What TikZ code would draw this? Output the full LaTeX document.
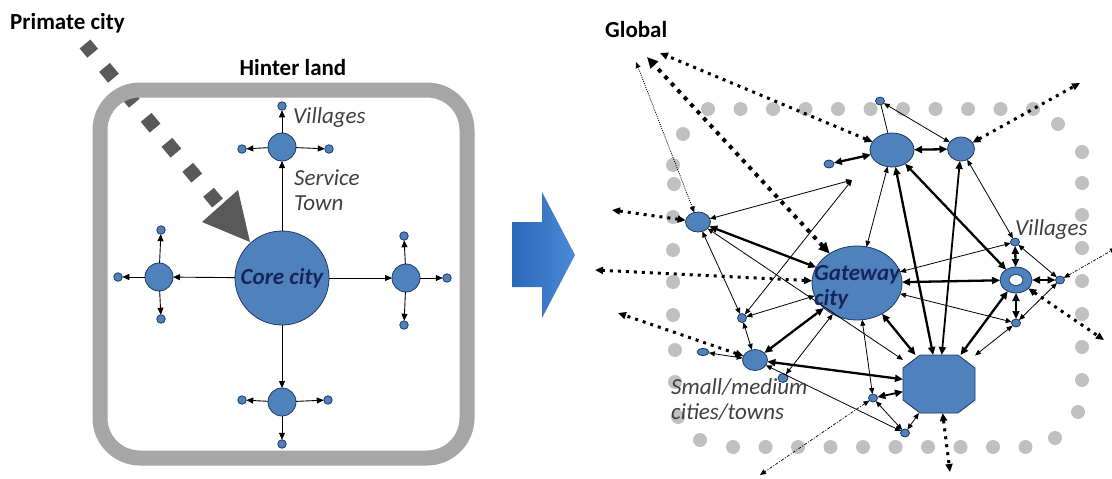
\documentclass[tikz,border=0pt]{standalone}
\usepackage{fontspec}
\setmainfont{Carlito}
\usetikzlibrary{arrows.meta,shapes.geometric}

\definecolor{cityblue}{RGB}{79,129,189}
\definecolor{cityline}{RGB}{31,56,100}
\definecolor{navytext}{RGB}{23,37,90}
\definecolor{labelgray}{RGB}{64,64,64}
\definecolor{framegray}{RGB}{166,166,166}
\definecolor{dotgray}{RGB}{192,192,192}
\definecolor{inflow}{RGB}{89,89,89}
\definecolor{shiftdark}{RGB}{44,104,186}
\definecolor{shiftlight}{RGB}{74,138,214}

\tikzset{
  tipS/.tip={Triangle[length=6pt,width=5pt]},
  tipM/.tip={Triangle[length=8pt,width=7pt]},
  tipL/.tip={Triangle[length=11pt,width=10pt]},
  city/.style={ellipse, draw=cityline, line width=0.8pt, fill=cityblue, inner sep=0pt, outer sep=0pt},
  hamlet/.style={city, minimum width=9pt, minimum height=8pt},
  spoke/.style={line width=0.9pt, -{Triangle[length=7pt,width=6pt]}},
  link/.style={line width=0.8pt, tipS-tipS},
  heavy/.style={line width=2.3pt, tipM-tipM},
  farlink/.style={line width=3pt, dash pattern=on 3pt off 5pt, tipM-tipM},
  bigfar/.style={line width=4pt, dash pattern=on 4pt off 5.5pt, tipL-tipL},
  faint/.style={line width=0.8pt, dash pattern=on 1pt off 1.2pt, tipS-tipS},
  dashdotline/.style={line width=0.7pt, dash pattern=on 3pt off 1.5pt on 1pt off 1.5pt, tipS-tipS},
  tag/.style={text=labelgray, font=\itshape\fontsize{23}{25}\selectfont, align=left, inner sep=0pt},
  heading/.style={font=\bfseries\fontsize{23}{25}\selectfont, inner sep=0pt},
  cityname/.style={text=navytext, font=\bfseries\itshape\fontsize{23}{25}\selectfont, align=left, inner sep=0pt},
}

\begin{document}
\begin{tikzpicture}[x=1pt,y=-1pt]
\useasboundingbox (0,0) rectangle (1112,479);

% ---------------- left: primate city model ----------------
\coordinate (pc) at (85,44);
\coordinate (pcend) at (220,206);
\draw[inflow, line width=14pt, dash pattern=on 14pt off 18.5pt, dash phase=2pt] (pc) -- (pcend);
\fill[inflow] (250,242) -- (202,222) -- (238,190) -- cycle;

% hinterland frame
\draw[framegray, line width=15pt, rounded corners=40pt] (100,90) rectangle (467,458);

\node[city, circle, minimum size=94pt, text=navytext,
      font=\bfseries\itshape\fontsize{23}{25}\selectfont] (core) at (282,278) {Core city};

\node[city, circle, minimum size=28pt] (tn) at (282,147) {};
\node[city, circle, minimum size=28pt] (tw) at (159,277) {};
\node[city, circle, minimum size=28pt] (te) at (406,278) {};
\node[city, circle, minimum size=28pt] (ts) at (282,402) {};

\node[city, circle, minimum size=8.5pt] (tnn) at (282,106) {};
\node[city, circle, minimum size=8.5pt] (tnw) at (242,149) {};
\node[city, circle, minimum size=8.5pt] (tne) at (329,149) {};
\node[city, circle, minimum size=8.5pt] (twn) at (161,230) {};
\node[city, circle, minimum size=8.5pt] (tww) at (118,277) {};
\node[city, circle, minimum size=8.5pt] (tws) at (161,319) {};
\node[city, circle, minimum size=8.5pt] (ten) at (404,236) {};
\node[city, circle, minimum size=8.5pt] (tee) at (447,278) {};
\node[city, circle, minimum size=8.5pt] (tes) at (404,325) {};
\node[city, circle, minimum size=8.5pt] (tsw) at (242,400) {};
\node[city, circle, minimum size=8.5pt] (tse) at (328,400) {};
\node[city, circle, minimum size=8.5pt] (tss) at (282,444) {};

\foreach \t in {tn,tw,te,ts} \draw[spoke] (core) -- (\t);
\draw[spoke] (tn) -- (tnn);  \draw[spoke] (tn) -- (tnw);  \draw[spoke] (tn) -- (tne);
\draw[spoke] (tw) -- (twn);  \draw[spoke] (tw) -- (tww);  \draw[spoke] (tw) -- (tws);
\draw[spoke] (te) -- (ten);  \draw[spoke] (te) -- (tee);  \draw[spoke] (te) -- (tes);
\draw[spoke] (ts) -- (tsw);  \draw[spoke] (ts) -- (tse);  \draw[spoke] (ts) -- (tss);

\node[heading, anchor=west] (ttl1) at (10,23) {Primate city};
\node[heading] (ttl2) at (293,68) {Hinter land};
\node[tag, anchor=west] (lv) at (293,117) {Villages};
\node[tag, anchor=west] (lst) at (294,190) {Service\\Town};

% ---------------- shift arrow ----------------
\shade[left color=shiftdark, right color=shiftlight]
  (512,222) -- (542,222) -- (542,192) -- (575,255) -- (542,318) -- (542,287) -- (512,287) -- cycle;

% ---------------- right: networked gateway model ----------------
% dotted hinterland outline
\foreach \i in {0,...,10} \fill[dotgray] (708+32.5*\i,109) circle[radius=7pt];
\foreach \i in {0,...,9} \fill[dotgray] (733+32.5*\i,447) circle[radius=7pt];
\foreach \p in {(683,134),(673,165),(674,184),(673,217),(673,250),(673,282),(673,315),(675,350),(675,382),(678,417),(700,440)}
  \fill[dotgray] \p circle[radius=7pt];
\foreach \p in {(1058,124),(1082,152),(1082,183),(1082,215),(1082,248),(1082,281),(1082,314),(1082,347),(1082,380),(1078,412),(1055,438)}
  \fill[dotgray] \p circle[radius=7pt];

% places
\node[city, minimum width=44pt, minimum height=34pt] (N1) at (892,150) {};
\node[city, minimum width=27pt, minimum height=24pt] (N2) at (961,149) {};
\node[hamlet] (t1) at (880,101) {};
\node[hamlet, minimum width=10pt] (t2) at (829,164) {};
\node[city, minimum width=90pt, minimum height=74pt] (G) at (857,283) {};
\node[city, minimum width=32pt, minimum height=26pt] (R) at (1016,280) {};
\node[ellipse, draw=cityline, line width=0.8pt, fill=white, minimum width=14pt, minimum height=11pt, inner sep=0pt] (Rin) at (R.center) {};
\node[hamlet] (v1) at (1015,242) {};
\node[hamlet] (v2) at (1016,323) {};
\node[hamlet] (v3) at (1060,280) {};

% octagonal regional centre
\node[rectangle, minimum width=72pt, minimum height=58pt, inner sep=0pt, outer sep=0pt] (O) at (939,384) {};
\filldraw[fill=cityblue, draw=cityline, line width=0.8pt]
  ([xshift=17pt]O.north west) -- ([xshift=-17pt]O.north east) -- ([yshift=-13pt]O.north east)
  -- ([yshift=13pt]O.south east) -- ([xshift=-17pt]O.south east) -- ([xshift=17pt]O.south west)
  -- ([yshift=13pt]O.south west) -- ([yshift=-13pt]O.north west) -- cycle;

\node[hamlet] (t3) at (873,398) {};
\node[hamlet] (t4) at (905,433) {};
\node[city, minimum width=25pt, minimum height=20pt] (NL) at (698,222) {};
\node[hamlet, minimum width=9pt, minimum height=9pt] (t5) at (742,318) {};
\node[city, minimum width=25pt, minimum height=21pt] (NS) at (755,360) {};
\node[hamlet, minimum width=12pt, minimum height=7pt] (t6) at (703,352) {};
\node[hamlet, minimum width=10pt, minimum height=9pt] (t7) at (783,378) {};

% free ends of the outward links
\coordinate (g1) at (660,53);
\coordinate (g2) at (647,57);
\coordinate (g3) at (636,62);
\coordinate (e1) at (612,210);
\coordinate (e2) at (1080,83);
\coordinate (e3) at (595,270);
\coordinate (e4) at (618,313);
\coordinate (e5) at (1116,248);
\coordinate (e6) at (1104,340);
\coordinate (e7) at (950,472);
\coordinate (e8) at (760,475);
\coordinate (h1) at (852,180);

% outward (global) links
\draw[farlink] (N1) -- (g1);
\draw[bigfar] (G) -- (g2);
\draw[faint] (NL) -- (g3);
\draw[farlink] (NL) -- (e1);
\draw[farlink] (N2) -- (e2);
\draw[farlink] (G) -- (e3);
\draw[farlink] (NS) -- (e4);
\draw[farlink] (R) -- (e6);
\draw[farlink] (O) -- (e7);
\draw[dashdotline] (v3) -- (e5);
\draw[dashdotline] (t3) -- (e8);

% strong links
\draw[heavy] (N1) -- (t2);
\draw[heavy] (N1) -- (N2);
\draw[heavy] (N1) -- (O);
\draw[heavy] (N1) -- (R);
\draw[heavy, line width=1.8pt] (N2) -- (O);
\draw[heavy] (NL) -- (G);
\draw[heavy] (G) -- (NS);
\draw[heavy] (G) -- (R);
\draw[heavy] (G) -- (O);
\draw[heavy] (O) -- (R);
\draw[heavy] (O) -- (NS);
\draw[heavy, line width=1.8pt] (O) -- (t3);
\draw[heavy] (R) -- (v1);
\draw[heavy] (R) -- (v2);
\draw[heavy] (R) -- (v3);

% weak links
\draw[link] (N2) -- (t1);
\draw[line width=0.8pt] (t1) -- (N1);
\draw[link] (N1) -- (G);
\draw[link] (N2) -- (v1);
\draw[link] (NL) -- (h1);
\draw[link] (t5) -- (h1);
\draw[link] (NL) -- (t5);
\draw[link] (NL) -- (O);
\draw[link] (G) -- (t5);
\draw[link] (t5) -- (NS);
\draw[link] (NS) -- (t6);
\draw[link] (G) -- (t7);
\draw[link] (NS) -- (t4);
\draw[link] (G) -- (t3);
\draw[link] (G) -- (v1);
\draw[link] (G) -- (v2);
\draw[link] (O) -- (v2);
\draw[link] (O) -- (t4);
\draw[link] (t3) -- (t4);
\draw[link] (v1) -- (v3);
\draw[link] (v2) -- (v3);

% labels
\node[heading, anchor=west] (ttl3) at (605,30) {Global};
\node[cityname, anchor=west] (gname) at (814,287) {Gateway\\city};
\node[tag, anchor=west] (rv) at (1015,229) {Villages};
\node[tag, anchor=west] (rs) at (671,400) {Small/medium\\cities/towns};
\end{tikzpicture}
\end{document}
